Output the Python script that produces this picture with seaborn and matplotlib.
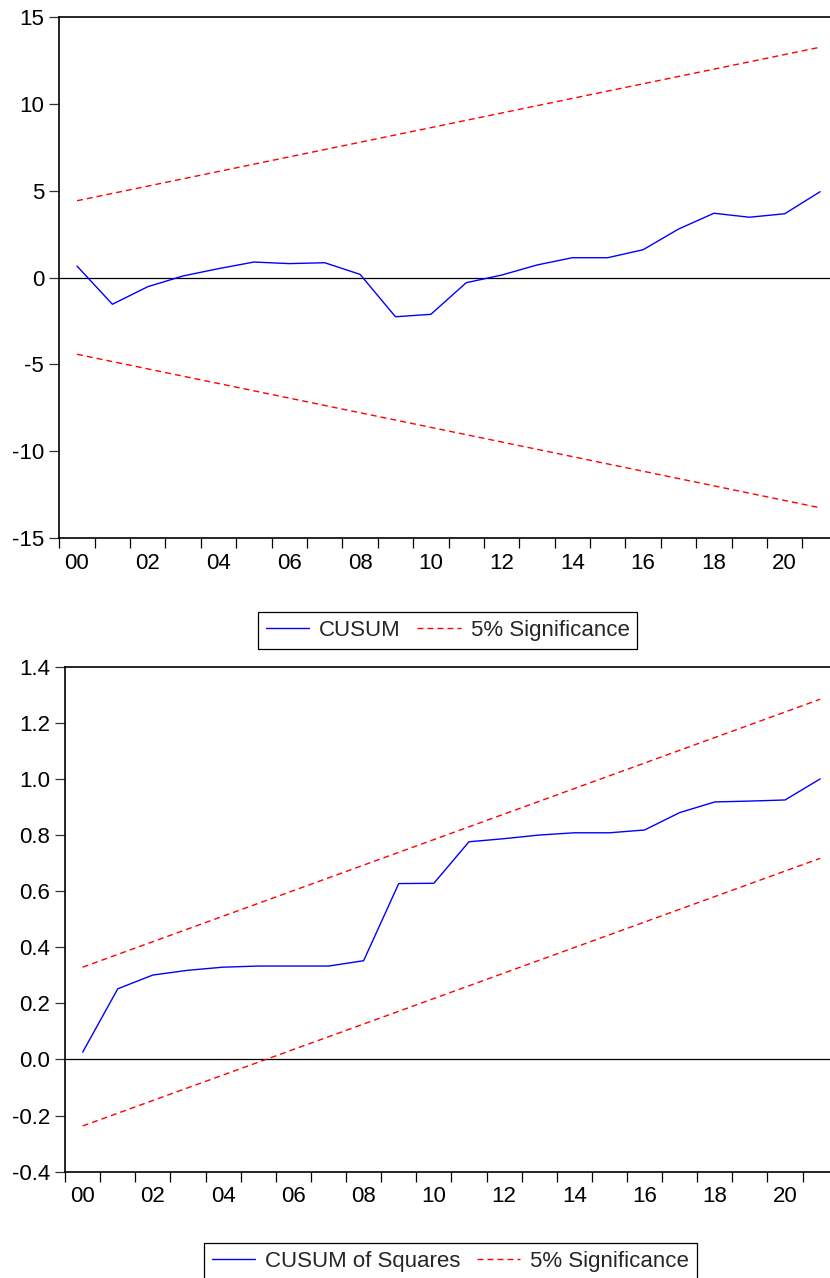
import matplotlib
matplotlib.use("Agg")
import matplotlib.pyplot as plt
import seaborn as sns
import pandas as pd
from matplotlib.ticker import FixedLocator, FixedFormatter

# ---------------- data ----------------
years = list(range(2000, 2022))
cusum = [0.66, -1.54, -0.53, 0.09, 0.51, 0.89, 0.80, 0.85, 0.18, -2.26, -2.12,
         -0.30, 0.14, 0.72, 1.14, 1.14, 1.60, 2.79, 3.70, 3.47, 3.67, 4.94]
cusum_bound_years = [2000, 2021]
cusum_upper = [4.42, 13.26]
cusum_lower = [-4.42, -13.26]

cusumsq = [0.026, 0.252, 0.301, 0.318, 0.329, 0.333, 0.333, 0.333, 0.352, 0.627,
           0.628, 0.776, 0.787, 0.800, 0.808, 0.808, 0.818, 0.880, 0.918, 0.921,
           0.925, 1.000]
sq_bound_years = [2000, 2021]
sq_upper = [0.329, 1.284]
sq_lower = [-0.237, 0.717]

x_tick_labels = ["00", "02", "04", "06", "08", "10", "12", "14", "16", "18", "20"]
top_yticks = [-15, -10, -5, 0, 5, 10, 15]
top_ylabels = ["-15", "-10", "-5", "0", "5", "10", "15"]
bot_yticks = [-0.4, -0.2, 0.0, 0.2, 0.4, 0.6, 0.8, 1.0, 1.2, 1.4]
bot_ylabels = ["-0.4", "-0.2", "0.0", "0.2", "0.4", "0.6", "0.8", "1.0", "1.2", "1.4"]

# ---------------- style ----------------
sns.set_theme(style="white")
plt.rcParams['font.family'] = ['Liberation Sans', 'DejaVu Sans']
plt.rcParams['axes.unicode_minus'] = False

W, H = 830, 1278
fig = plt.figure(figsize=(W / 100, H / 100), dpi=100)
ax1 = fig.add_axes([59.3 / W, 1 - 538 / H, 1 - 59.3 / W, 521 / H])
ax2 = fig.add_axes([65.1 / W, 1 - 1171.7 / H, 1 - 65.1 / W, 505 / H])

BLUE = "#0000ff"
RED = "#ff0000"
DASH = (0, (4.3, 2.9))
FS = 16


def style_axes(ax, yticks, ylabels, ylim):
    ax.set_xlim(1999.5, 2021.28)
    ax.set_ylim(*ylim)
    ax.axhline(0, color="black", lw=0.9, zorder=1)
    for s in ["left", "bottom", "top"]:
        ax.spines[s].set_visible(True)
        ax.spines[s].set_color("black")
        ax.spines[s].set_linewidth(1.2)
    ax.spines["right"].set_visible(False)
    # x: labels at even years (no tick marks), ticks at year boundaries
    label_pos = [2000 + 2 * i for i in range(len(x_tick_labels))]
    ax.xaxis.set_major_locator(FixedLocator(label_pos))
    ax.xaxis.set_major_formatter(FixedFormatter(x_tick_labels))
    ax.xaxis.set_minor_locator(FixedLocator([1999.5 + k for k in range(22)]))
    ax.tick_params(axis="x", which="major", length=0, pad=10.5,
                   labelsize=FS, labelcolor="black")
    ax.tick_params(axis="x", which="minor", length=7.3, width=0.9,
                   direction="out", color="black", bottom=True)
    ax.yaxis.set_major_locator(FixedLocator(yticks))
    ax.yaxis.set_major_formatter(FixedFormatter(ylabels))
    ax.tick_params(axis="y", which="major", length=7, width=0.9,
                   direction="out", color="#333333", left=True, pad=4,
                   labelsize=FS, labelcolor="black")
    ax.set_xlabel("")
    ax.set_ylabel("")
    ax.grid(False)


# ---------- top panel: CUSUM ----------
df1 = pd.DataFrame({"year": years, "CUSUM": cusum})
sns.lineplot(data=df1, x="year", y="CUSUM", ax=ax1, color=BLUE, lw=1.0,
             label="CUSUM", zorder=3)
sns.lineplot(x=cusum_bound_years, y=cusum_upper, ax=ax1, color=RED, lw=1.0,
             linestyle=DASH, label="5% Significance", zorder=3)
sns.lineplot(x=cusum_bound_years, y=cusum_lower, ax=ax1, color=RED, lw=1.0,
             linestyle=DASH, zorder=3)
style_axes(ax1, top_yticks, top_ylabels, (-15, 15))
h1, l1 = ax1.get_legend_handles_labels()
ax1.legend_.remove()

# ---------- bottom panel: CUSUM of Squares ----------
df2 = pd.DataFrame({"year": years, "CUSUMSQ": cusumsq})
sns.lineplot(data=df2, x="year", y="CUSUMSQ", ax=ax2, color=BLUE, lw=1.0,
             label="CUSUM of Squares", zorder=3)
sns.lineplot(x=sq_bound_years, y=sq_upper, ax=ax2, color=RED, lw=1.0,
             linestyle=DASH, label="5% Significance", zorder=3)
sns.lineplot(x=sq_bound_years, y=sq_lower, ax=ax2, color=RED, lw=1.0,
             linestyle=DASH, zorder=3)
style_axes(ax2, bot_yticks, bot_ylabels, (-0.4, 1.4))
h2, l2 = ax2.get_legend_handles_labels()
ax2.legend_.remove()

leg_kw = dict(ncol=2, fontsize=FS, frameon=True, fancybox=False, shadow=False,
              edgecolor="black", framealpha=1, borderpad=0.35,
              handlelength=1.94, handletextpad=0.45, columnspacing=0.77,
              borderaxespad=0)
leg1 = fig.legend(h1, l1, loc="upper center",
                  bbox_to_anchor=(447.5 / W, 1 - 612.3 / H), **leg_kw)
leg2 = fig.legend(h2, l2, loc="upper center",
                  bbox_to_anchor=(450.4 / W, 1 - 1243 / H), **leg_kw)
for leg in (leg1, leg2):
    leg.get_frame().set_linewidth(0.9)

fig.savefig("out.png", dpi=100)
